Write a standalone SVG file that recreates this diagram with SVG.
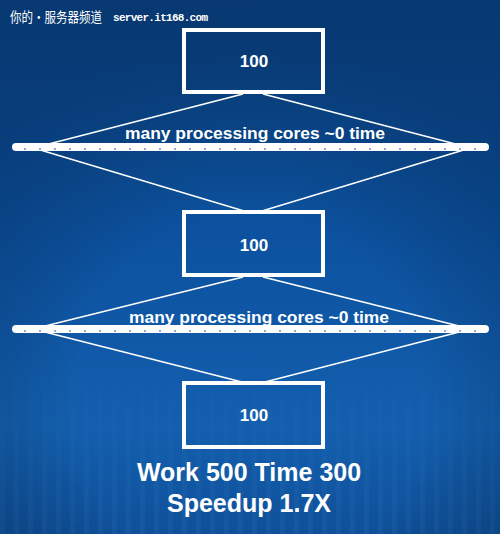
<svg xmlns="http://www.w3.org/2000/svg" width="500" height="534" viewBox="0 0 500 534">
<defs>
<linearGradient id="bg" x1="0" y1="0" x2="0" y2="1">
<stop offset="0" stop-color="#0a4586"/>
<stop offset="0.45" stop-color="#0c52a0"/>
<stop offset="0.8" stop-color="#135fae"/>
<stop offset="1" stop-color="#0f5099"/>
</linearGradient>
<radialGradient id="vig" cx="0.5" cy="0.75" r="0.7">
<stop offset="0.5" stop-color="#000" stop-opacity="0"/>
<stop offset="1" stop-color="#001a40" stop-opacity="0.3"/>
</radialGradient>
<pattern id="stripes" width="14" height="534" patternUnits="userSpaceOnUse">
<rect x="0" y="0" width="5" height="534" fill="#3f86d0" opacity="0.14"/>
</pattern>
<linearGradient id="fadeIn" x1="0" y1="0" x2="0" y2="1">
<stop offset="0" stop-color="#fff" stop-opacity="0"/>
<stop offset="1" stop-color="#fff" stop-opacity="1"/>
</linearGradient>
<mask id="m"><rect x="0" y="340" width="500" height="194" fill="url(#fadeIn)"/></mask>
<style>
.box{fill:none;stroke:#fff;stroke-width:4}
.num{font-family:"Liberation Sans",Arial,sans-serif;font-weight:bold;font-size:17px;fill:#fff;text-anchor:middle}
.lbl{font-family:"Liberation Sans",Arial,sans-serif;font-weight:bold;font-size:16px;fill:#fff;text-anchor:middle}
.ln{stroke:#fff;stroke-width:1.5;fill:none}
.bar{stroke:#fff;stroke-width:8;stroke-linecap:round}
.dash{stroke:#6d94c4;stroke-width:1.5;stroke-dasharray:2 13}
.big{font-family:"Liberation Sans",Arial,sans-serif;font-weight:bold;font-size:25px;fill:#fff;text-anchor:middle}
</style>
</defs>
<rect width="500" height="534" fill="url(#bg)"/>
<rect width="500" height="534" fill="url(#stripes)" mask="url(#m)"/>
<rect width="500" height="534" fill="url(#vig)"/>
<g id="watermark">
<text x="10" y="22" font-family="'Noto Sans CJK SC',sans-serif" font-size="14" fill="#fff" textLength="92" lengthAdjust="spacingAndGlyphs">你的•服务器频道</text>
<text x="113" y="21" font-family="'Liberation Mono',monospace" font-size="11" font-weight="bold" fill="#fff" textLength="95">server.it168.com</text>
</g>
<g id="connectors">
<line class="ln" x1="37" y1="147" x2="243" y2="94"/>
<line class="ln" x1="467" y1="147" x2="263" y2="94"/>
<line class="ln" x1="37" y1="149" x2="244" y2="211"/>
<line class="ln" x1="467" y1="149" x2="262" y2="211"/>
<line class="ln" x1="37" y1="328" x2="243" y2="277"/>
<line class="ln" x1="467" y1="328" x2="263" y2="277"/>
<line class="ln" x1="37" y1="330" x2="242" y2="382"/>
<line class="ln" x1="467" y1="330" x2="265" y2="382"/>
</g>
<g id="bar1">
<line class="bar" x1="16" y1="147" x2="485" y2="147"/>
<line class="dash" x1="24" y1="149" x2="478" y2="149"/>
<text class="lbl" x="255" y="139" textLength="260" lengthAdjust="spacingAndGlyphs">many processing cores ~0 time</text>
</g>
<g id="bar2">
<line class="bar" x1="16" y1="329" x2="485" y2="329"/>
<line class="dash" x1="24" y1="331" x2="478" y2="331"/>
<text class="lbl" x="259" y="323" textLength="260" lengthAdjust="spacingAndGlyphs">many processing cores ~0 time</text>
</g>
<g id="box1">
<rect class="box" x="184" y="30" width="139" height="62"/>
<text class="num" x="254" y="67">100</text>
</g>
<g id="box2">
<rect class="box" x="184" y="212" width="139" height="63"/>
<text class="num" x="254" y="251">100</text>
</g>
<g id="box3">
<rect class="box" x="184" y="383" width="139" height="64"/>
<text class="num" x="254" y="421">100</text>
</g>
<g id="summary">
<text class="big" x="249" y="481">Work 500 Time 300</text>
<text class="big" x="249" y="512">Speedup 1.7X</text>
</g>
</svg>
